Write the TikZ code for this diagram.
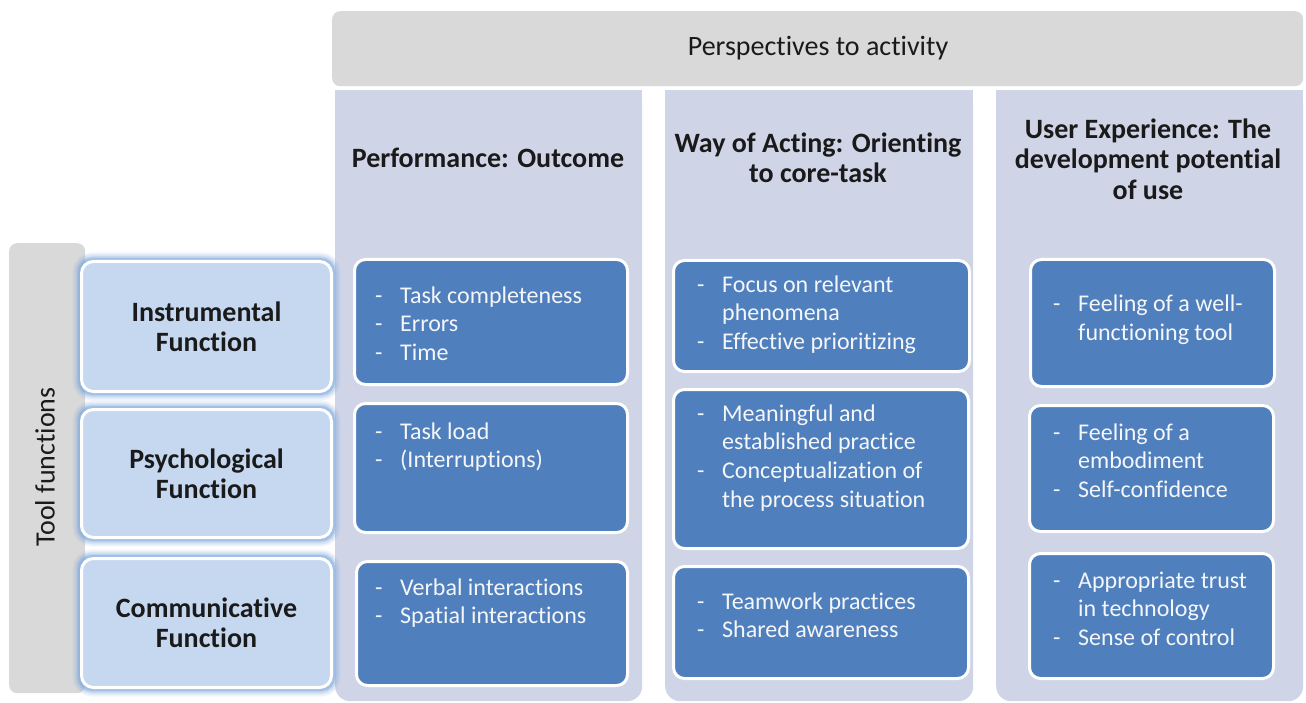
\documentclass[tikz,border=0pt]{standalone}
\usepackage{fontspec}
\setmainfont[Ligatures=NoCommon]{Carlito}
\usetikzlibrary{positioning}
\definecolor{barGray}{HTML}{D9D9D9}
\definecolor{colFill}{HTML}{CFD5E6}
\definecolor{itemBlue}{HTML}{4F7FBC}
\definecolor{funcFill}{HTML}{C6D8F0}
\definecolor{glowBlue}{HTML}{7FA8DC}
\definecolor{inkDark}{HTML}{1A1A1A}
\definecolor{inkLight}{HTML}{F4F6FA}
\tikzset{
  graybar/.style={fill=barGray, draw=none, rounded corners=8pt, inner sep=0pt},
  column/.style={fill=colFill, draw=none, rounded corners=15pt, inner sep=0pt, anchor=north west},
  itembox/.style={fill=itemBlue, draw=white, line width=3pt, rounded corners=11pt, inner sep=0pt, anchor=north west},
  funcbox/.style={fill=funcFill, draw=white, line width=3pt, rounded corners=12pt, inner sep=0pt, anchor=north west},
  headtext/.style={font=\fontsize{28}{30.5}\selectfont\bfseries, text=inkDark, align=center, inner sep=0pt},
  functext/.style={font=\fontsize{28}{30}\selectfont\bfseries, text=inkDark, align=center, inner sep=0pt},
  itemtext/.style={font=\fontsize{24}{28.7}\selectfont, text=inkLight, inner sep=0pt, anchor=base west},
}
% a bulleted list in the style of the blue boxes
\newcommand{\dashlist}[1]{\begin{tabular}[t]{@{}p{25pt}@{}l@{}}#1\end{tabular}}
% soft blue halo round a function box
\newcommand{\glow}[1]{%
  \foreach \w/\o in {15/0.12, 11/0.2, 7/0.3, 4/0.45} {
    \draw[glowBlue, opacity=\o, line width=\w pt, rounded corners=12pt]
      (#1.north west) rectangle (#1.south east);
  }}
\begin{document}
\begin{tikzpicture}[x=1pt, y=-1pt]
\useasboundingbox (0,0) rectangle (1306,703);

% header bar
\node[graybar, minimum width=971pt, minimum height=75pt, anchor=north west] (top) at (332,11) {};
\node[font=\fontsize{28}{30}\selectfont, text=inkDark, inner sep=0pt] (toptxt) at (818,48) {Perspectives to activity};

% three perspective columns, square at the top
\foreach \n/\x/\w in {colA/335/307, colB/665/308, colC/996/307} {
  \node[column, minimum width=\w pt, minimum height=611pt] (\n) at (\x,90) {};
  \fill[colFill] (\x,90) rectangle ++(\w,40);
}
\node[headtext] (hA) at (488,158) {Performance: Outcome};
\node[headtext] (hB) at (818,158) {Way of Acting: Orienting\\to core-task};
\node[headtext] (hC) at (1148,159) {User Experience: The\\development potential\\of use};

% tool functions side bar
\node[graybar, minimum width=76pt, minimum height=450pt, anchor=north west] (side) at (9,243) {};
\node[font=\fontsize{28}{30}\selectfont, text=inkDark, rotate=90, inner sep=0pt] (sidetxt) at (45,467) {Tool functions};

% function boxes
\node[funcbox, minimum width=250pt, minimum height=130pt] (fI) at (80,260) {};
\node[funcbox, minimum width=250pt, minimum height=128pt] (fP) at (80,408) {};
\node[funcbox, minimum width=250pt, minimum height=129pt] (fC) at (80,557) {};
\glow{fI}\glow{fP}\glow{fC}
\node[funcbox, minimum width=250pt, minimum height=130pt] at (80,260) {};
\node[funcbox, minimum width=250pt, minimum height=128pt] at (80,408) {};
\node[funcbox, minimum width=250pt, minimum height=129pt] at (80,557) {};
\node[functext] (tI) at (fI.center) {Instrumental\\Function};
\node[functext] (tP) at (fP.center) {Psychological\\Function};
\node[functext] (tC) at (fC.center) {Communicative\\Function};

% item boxes: performance
\node[itembox, minimum width=273pt, minimum height=125pt] (a1) at (353,258) {};
\node[itembox, minimum width=273pt, minimum height=129pt] (a2) at (353,402) {};
\node[itembox, minimum width=271pt, minimum height=124pt] (a3) at (355,560) {};
% item boxes: way of acting
\node[itembox, minimum width=296pt, minimum height=111pt] (b1) at (672,259) {};
\node[itembox, minimum width=295pt, minimum height=159pt] (b2) at (672,388) {};
\node[itembox, minimum width=295pt, minimum height=112pt] (b3) at (672,565) {};
% item boxes: user experience
\node[itembox, minimum width=244pt, minimum height=127pt] (c1) at (1029,258) {};
\node[itembox, minimum width=244pt, minimum height=126pt] (c2) at (1028,404) {};
\node[itembox, minimum width=244pt, minimum height=125pt] (c3) at (1028,552) {};

% item texts
\node[itemtext] (ta1) at (375,303) {\dashlist{- & Task completeness\\ - & Errors\\ - & Time}};
\node[itemtext] (ta2) at (375,439) {\dashlist{- & Task load\\ - & (Interruptions)}};
\node[itemtext] (ta3) at (375,595) {\dashlist{- & Verbal interactions\\ - & Spatial interactions}};
\node[itemtext] (tb1) at (697,292) {\dashlist{- & Focus on relevant\\ & phenomena\\ - & Effective prioritizing}};
\node[itemtext] (tb2) at (697,421) {\dashlist{- & Meaningful and\\ & established practice\\ - & Conceptualization of\\ & the process situation}};
\node[itemtext] (tb3) at (697,609) {\dashlist{- & Teamwork practices\\ - & Shared awareness}};
\node[itemtext] (tc1) at (1053,312) {\dashlist{- & Feeling of a well-\\ & functioning tool}};
\node[itemtext] (tc2) at (1053,440) {\dashlist{- & Feeling of a\\ & embodiment\\ - & Self-confidence}};
\node[itemtext] (tc3) at (1053,588) {\dashlist{- & Appropriate trust\\ & in technology\\ - & Sense of control}};
\end{tikzpicture}
\end{document}
